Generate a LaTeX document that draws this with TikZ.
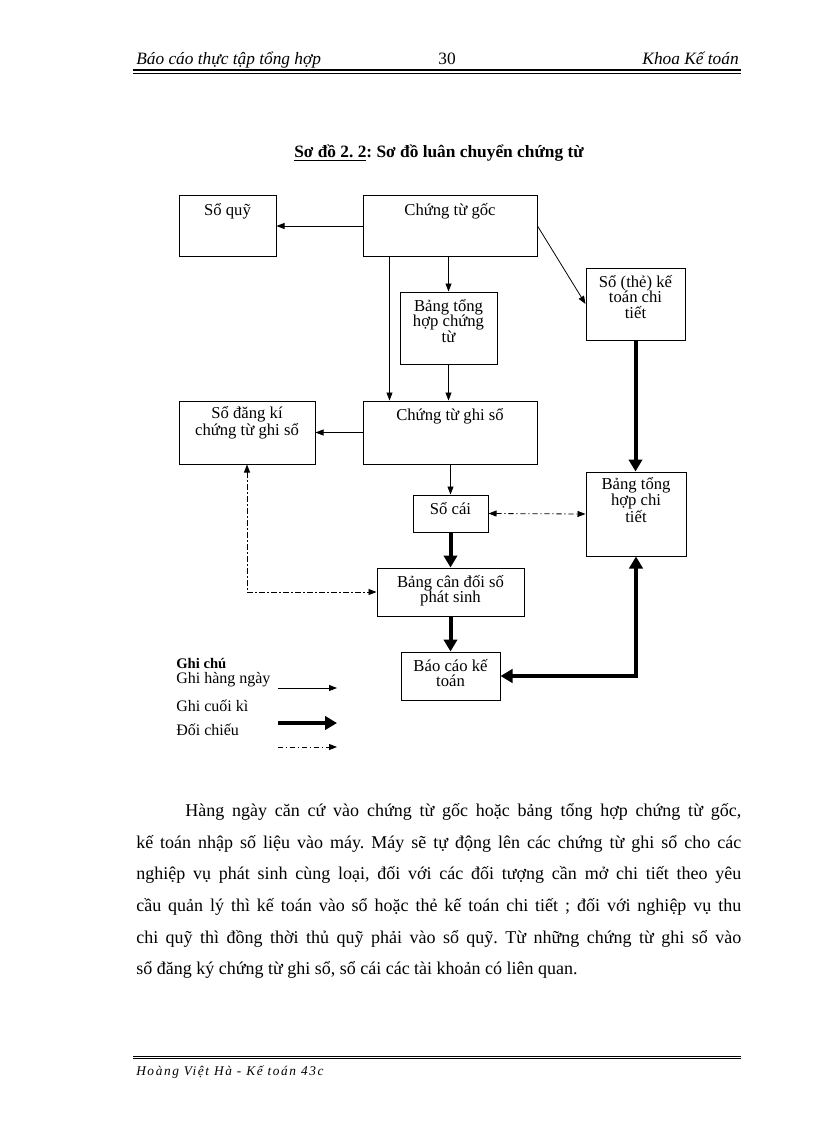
\documentclass[tikz,border=0pt]{standalone}
\usepackage{fontspec}
\setmainfont{Liberation Serif}
\usepackage{tikz}
\usetikzlibrary{positioning,fit,calc,arrows.meta}
\tikzset{
        >={Triangle[length=6pt,width=4.5pt]}, % small filled heads
        bigtip/.tip={Triangle[length=9pt,width=10pt]}, % heads of the thick arrows
        box/.style={draw, line width=0.75pt, inner sep=0pt}, % every box of the chart
        txt/.style={font=\fontsize{12.5}{11.5}\selectfont, align=center, inner sep=0pt},
        daily/.style={line width=0.6pt}, % ghi hang ngay
        period/.style={line width=3pt}, % ghi cuoi ki
        check/.style={line width=0.6pt, dash pattern=on 4pt off 2pt on 1pt off 2pt}, % doi chieu
}
\begin{document}
\frenchspacing
\begin{tikzpicture}[x=0.75pt,y=-0.75pt]
\useasboundingbox (0,0) rectangle (816,1123);

% header and title
\node[anchor=base west, inner sep=0, font=\itshape\fontsize{13}{15}\selectfont] (head) at (136,65) {Báo cáo thực tập tổng hợp};
\node[anchor=base, inner sep=0, font=\fontsize{13}{15}\selectfont] (page) at (447,65) {30};
\node[anchor=base east, inner sep=0, font=\itshape\fontsize{13}{15}\selectfont] (dept) at (739,65) {Khoa Kế toán};
\draw[line width=1.2pt] (133,70) -- (741,70);
\draw[line width=0.6pt] (133,73) -- (741,73);
\node[anchor=base, inner sep=0, font=\bfseries\fontsize{13}{15}\selectfont] (title) at (439,158) {\underline{Sơ đồ 2. 2}: Sơ đồ luân chuyển chứng từ};

% boxes
\node[box, fit={(179,196) (276,256)}] (quy) {};
\node[box, fit={(363,196) (537,256)}] (goc) {};
\node[box, fit={(400,292) (497,364)}] (thct) {};
\node[box, fit={(586,268) (685,340)}] (sct) {};
\node[box, fit={(179,401) (315,464)}] (dk) {};
\node[box, fit={(363,401) (537,464)}] (ctgs) {};
\node[box, fit={(413,495) (488,532)}] (cai) {};
\node[box, fit={(586,472) (686,556)}] (thcti) {};
\node[box, fit={(377,568) (524,616)}] (cdps) {};
\node[box, fit={(401,652) (500,700)}] (bc) {};

% texts of the boxes (base of a node is its last line)
\foreach \b/\n/\t in {quy/0/Sổ quỹ, goc/0/Chứng từ gốc, thct/2/Bảng tổng\\hợp chứng\\từ,
    sct/2/Sổ (thẻ) kế\\toán chi\\tiết, dk/1/Sổ đăng kí\\chứng từ ghi sổ, ctgs/0/Chứng từ ghi sổ,
    cai/0/Sổ cái, thcti/2/Bảng tổng\\hợp chi\\tiết, cdps/1/Bảng cân đối số\\phát sinh, bc/1/Báo cáo kế\\toán}
  \node[txt, anchor=base] (\b-t) at ($(\b.north)+(0,20+\n*15.33)$) {\t};

% daily entries
\draw[daily,->] (goc.west) -- (quy.east);
\draw[daily,->] ($(goc.south west)+(27,0)$) -- ($(ctgs.north west)+(27,0)$);
\draw[daily,->] (thct.north |- goc.south) -- (thct.north);
\draw[daily,->] (thct.south) -- (thct.south |- ctgs.north);
\draw[daily,->] (goc.east) -- (sct.west);
\draw[daily,->] (ctgs.west) -- (dk.east);
\draw[daily,->] (cai.north |- ctgs.south) -- (cai.north);

% end of period
\draw[period,-bigtip] (sct.south) -- (sct.south |- thcti.north);
\draw[period,-bigtip] (cai.south) -- (cai.south |- cdps.north);
\draw[period,-bigtip] (bc.north |- cdps.south) -- (bc.north);
\draw[period,bigtip-bigtip] (bc.east) -| (thcti.south);

% cross checks
\draw[check,<->] (cai.east) -- (thcti.west);
\draw[check,<->] (dk.south) |- (cdps.west);

% legend
\node[anchor=base west, inner sep=0, font=\bfseries\fontsize{11}{12}\selectfont] (key) at (176,668) {Ghi chú};
\foreach \n/\y/\t in {a/683/Ghi hàng ngày, b/711/Ghi cuối kì, c/735/Đối chiếu}
  \node[anchor=base west, inner sep=0, font=\fontsize{12}{12}\selectfont] (key-\n) at (176,\y) {\t};
\foreach \n/\y in {a/688, b/723, c/747}{
  \coordinate (s-\n) at (278,\y);
  \coordinate (e-\n) at (337,\y);
}
\draw[daily,->] (s-a) -- (e-a);
\draw[period,-bigtip] (s-b) -- (e-b);
\draw[check,->] (s-c) -- (e-c);

% text below the chart
\node[anchor=north west, inner sep=0, text width=453.75pt, align=justify, font=\fontsize{13.5}{23.8}\selectfont] (body) at (136,803)
  {\hspace*{36.75pt}Hàng ngày căn cứ vào chứng từ gốc hoặc bảng tổng hợp chứng từ gốc,\linebreak
   kế toán nhập số liệu vào máy. Máy sẽ tự động lên các chứng từ ghi sổ cho các\linebreak
   nghiệp vụ phát sinh cùng loại, đối với các đối tượng cần mở chi tiết theo yêu\linebreak
   cầu quản lý thì kế toán vào sổ hoặc thẻ kế toán chi tiết ; đối với nghiệp vụ thu\linebreak
   chi quỹ thì đồng thời thủ quỹ phải vào sổ quỹ. Từ những chứng từ ghi sổ vào\linebreak
   sổ đăng ký chứng từ ghi sổ, sổ cái các tài khoản có liên quan.};

% footer
\draw[line width=0.6pt] (133,1056) -- (741,1056);
\draw[line width=0.6pt] (133,1058.5) -- (741,1058.5);
\node[anchor=base west, inner sep=0, font=\itshape\fontsize{10}{12}\selectfont\addfontfeature{LetterSpace=12}] (foot) at (136,1075) {Hoàng Việt Hà - Kế toán 43c};
\end{tikzpicture}
\end{document}
